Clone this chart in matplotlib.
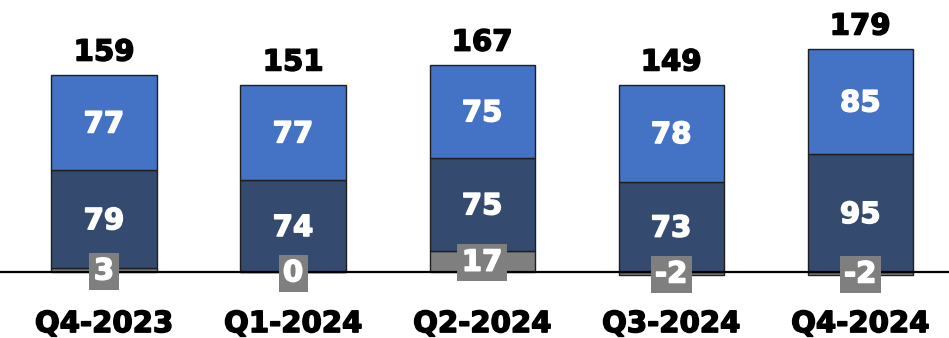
import numpy as np
import matplotlib
matplotlib.use("Agg")
from matplotlib import pyplot as plt
from matplotlib import patheffects as pe

quarters = ["Q4-2023", "Q1-2024", "Q2-2024", "Q3-2024", "Q4-2024"]
other = [3, 0, 17, -2, -2]
core = [79, 74, 75, 73, 95]
growth = [77, 77, 75, 78, 85]
totals = [159, 151, 167, 149, 179]

GREY = "#7f7f7f"
NAVY = "#344a6e"
BLUE = "#4472c4"

plt.rcParams['font.family'] = ['DejaVu Sans']

fig = plt.figure(figsize=(9.49, 3.38), dpi=100)
ax = fig.add_axes([0, 0, 1, 1])

x = np.arange(len(quarters))
other = np.array(other)
core = np.array(core)
growth = np.array(growth)

# navy starts at zero when the grey piece is negative
core_bottom = np.maximum(other, 0)
growth_bottom = core_bottom + core
top = growth_bottom + growth

w = 0.556
kw = dict(width=w, edgecolor="#1f1f1f", linewidth=1)
ax.bar(x, other, color=GREY, **kw)
ax.bar(x, core, bottom=core_bottom, color=NAVY, **kw)
ax.bar(x, growth, bottom=growth_bottom, color=BLUE, **kw)

ax.axhline(0, color="black", linewidth=1.6, zorder=1)

fs = 21


def label(xx, yy, s, color, **extra):
    t = ax.text(xx, yy, s, ha="center", va="center", color=color,
                fontsize=fs, fontweight="bold", **extra)
    # fatten the bold glyphs a little
    t.set_path_effects([pe.withStroke(linewidth=1.1, foreground=color)])
    return t


for i in range(len(x)):
    label(x[i], core_bottom[i] + core[i] / 2 - 1.5, str(core[i]), "white")
    label(x[i], growth_bottom[i] + growth[i] / 2 - 1.5, str(growth[i]), "white")
    label(x[i], other[i] / 2 - 1, str(other[i]), "white",
          bbox=dict(boxstyle="square,pad=0.15", facecolor=GREY, edgecolor="none"))
    label(x[i], top[i] + 18, str(totals[i]), "black")
    label(x[i], -42, quarters[i], "black")

ax.set_xlim(-0.55, 4.47)
ax.set_ylim(-53.2, 219.4)
ax.axis("off")

fig.savefig("out.png", dpi=100)
